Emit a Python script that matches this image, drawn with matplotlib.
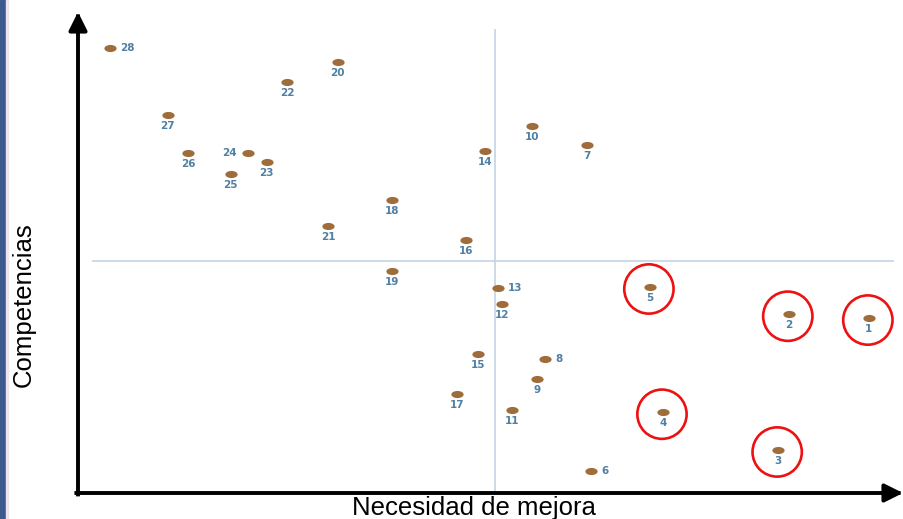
import numpy as np
import matplotlib
matplotlib.use("Agg")
import matplotlib.pyplot as plt
from matplotlib.path import Path
from matplotlib.markers import MarkerStyle
from matplotlib.patches import Rectangle
from matplotlib.transforms import ScaledTranslation

# Items: id, need for improvement (x), competence (y)
item_ids = [28, 20, 22, 27, 10, 7, 26, 24, 14, 23, 25, 18, 21, 16,
            19, 13, 5, 12, 2, 1, 15, 8, 9, 17, 4, 11, 3, 6]
necesidad = [3.9, 31.8, 25.6, 11.0, 55.6, 62.3, 13.5, 20.8, 49.8, 23.1, 18.7, 38.4, 30.6, 47.5,
             38.4, 51.4, 70.0, 51.9, 87.0, 96.8, 49.0, 57.2, 56.2, 46.4, 71.6, 53.1, 85.7, 62.8]
competencias = [93.1, 90.2, 86.0, 79.1, 76.8, 72.8, 71.1, 71.1, 71.5, 69.2, 66.7, 61.3, 55.9, 52.9,
                46.4, 42.9, 43.1, 39.5, 37.4, 36.6, 29.1, 28.0, 23.8, 20.7, 16.9, 17.4, 9.0, 4.6]

# Critical items (high need, low competence)
highlighted = [5, 2, 1, 4, 3]

# Quadrant dividers
x_split = 51.0
y_split = 48.5

x_label = "Necesidad de mejora"
y_label = "Competencias"

# Label placement exceptions (default: below the dot)
label_side = {28: "right", 24: "left", 13: "right", 8: "right", 6: "right"}

W, H = 904, 519
fig = plt.figure(figsize=(W / 100, H / 100), dpi=100)
ax = fig.add_axes([0, 0, 1, 1])
ax.set_axis_off()

# axis origin at pixel (78, 493); 8.17 px per x unit, 4.78 px per y unit
ax.set_xlim(-78 / 8.17, (W - 78) / 8.17)
ax.set_ylim(-(H - 493) / 4.78, 493 / 4.78)

# left decorative strip
fig.patches.append(Rectangle((0, 0), 6 / W, 1, transform=fig.transFigure,
                             color="#3d5a8c", zorder=0))
fig.patches.append(Rectangle((6 / W, 0), 2 / W, 1, transform=fig.transFigure,
                             color="#efe4ef", zorder=0))

# quadrant lines
ax.plot([x_split, x_split], [0, 96.9], color="#c8d7e6", lw=1.3, zorder=1)
ax.plot([1.8, 99.8], [y_split, y_split], color="#c8d7e6", lw=1.3, zorder=1)

# axes with arrowheads
x_end = (903 - 78) / 8.17
y_end = (493 - 12) / 4.78
arrow = dict(arrowstyle="-|>,head_length=1.1,head_width=0.55", color="black",
             lw=2.8, mutation_scale=10, shrinkA=0, shrinkB=0, capstyle="projecting")
ax.annotate("", xy=(0, y_end), xytext=(0, -0.3), arrowprops=arrow, zorder=3)
ax.annotate("", xy=(x_end, 0), xytext=(-0.2, 0), arrowprops=arrow, zorder=3)

# elliptical dot marker
circ = Path.unit_circle()
ellipse = Path(circ.vertices * np.array([1.0, 0.58]), circ.codes)
ax.scatter(necesidad, competencias, marker=MarkerStyle(ellipse), s=78,
           color="#9f6c3c", linewidths=0, zorder=4)

# value labels
for n, x, y in zip(item_ids, necesidad, competencias):
    side = label_side.get(n, "below")
    if side == "below":
        off, ha = (0, -11), "center"
    elif side == "right":
        off, ha = (10, 0), "left"
    else:
        off, ha = (-11, 0), "right"
    ax.annotate(str(n), (x, y), xytext=off, textcoords="offset pixels",
                ha=ha, va="center", fontsize=7.5, fontweight="bold",
                color="#4f80a3", family="DejaVu Sans", zorder=5)

# red rings around the critical items
hx = [necesidad[item_ids.index(n)] for n in highlighted]
hy = [competencias[item_ids.index(n)] for n in highlighted]
ring_tf = ax.transData + ScaledTranslation(-1 / 100, -2 / 100, fig.dpi_scale_trans)
ax.scatter(hx, hy, marker="o", s=1260, facecolors="none", edgecolors="#ee1111",
           linewidths=1.9, transform=ring_tf, zorder=6)

# axis titles
fig.text(474 / W, (H - 515) / H, x_label, ha="center", va="baseline",
         fontsize=18.5, family="Liberation Sans", color="black")
fig.text(31 / W, (H - 305) / H, y_label, ha="center", va="baseline", rotation=90,
         rotation_mode="anchor", fontsize=18.5, family="Liberation Sans", color="black")

fig.savefig("out.png", dpi=100)
